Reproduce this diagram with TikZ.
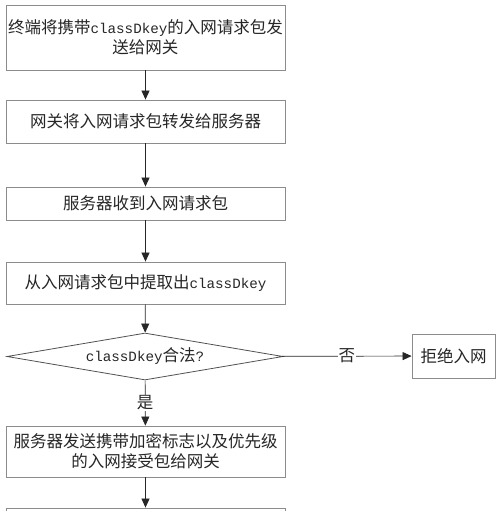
\documentclass[tikz,border=0pt]{standalone}
\usepackage{fontspec}
\usepackage{tikz}
\usetikzlibrary{arrows.meta, shapes.geometric}
\newfontfamily\cjk{Noto Sans CJK SC}
\newfontfamily\latinmono{Liberation Mono}
\newcommand{\lat}[1]{{\latinmono\fontsize{14.2}{20}\selectfont #1}}
\definecolor{boxgray}{HTML}{8C8C8C}
\definecolor{inkgray}{HTML}{262626}

\begin{document}
\begin{tikzpicture}[x=1pt, y=-1pt,
    font=\cjk\fontsize{16.5}{20}\selectfont, text=inkgray,
    stepbox/.style={draw=boxgray, line width=0.8pt, minimum width=279pt, inner sep=2pt, align=center},
    decision/.style={draw=inkgray!80, line width=0.8pt, diamond, aspect=5.9, inner sep=0pt, minimum width=276pt, minimum height=47pt},
    flow/.style={draw=inkgray, line width=0.7pt, -{Triangle[length=9pt, width=8pt]}},
    tag/.style={fill=white, inner sep=1pt}]
        \useasboundingbox (0,0) rectangle (500,511);
        \clip (0,0) rectangle (500,511);
        % Steps
        \node[stepbox, minimum height=65pt] (send) at (145.5,37.5) {终端将携带\lat{classDkey}的入网请求包发\\送给网关};
        \node[stepbox, minimum height=43pt] (forward) at (145.5,121.5) {网关将入网请求包转发给服务器};
        \node[stepbox, minimum height=33pt] (receive) at (145.5,203.5) {服务器收到入网请求包};
        \node[stepbox, minimum height=42pt] (extract) at (145.5,283) {从入网请求包中提取出\lat{classDkey}};
        % Check
        \node[decision] (check) at (145,356.5) {\lat{classDkey}合法\lat{?}};
        \node[stepbox, minimum width=83pt, minimum height=44pt] (reject) at (453.5,356) {拒绝入网};
        \node[stepbox, minimum height=51pt] (accept) at (145.5,451.5) {服务器发送携带加密标志以及优先级\\的入网接受包给网关};
        \node[stepbox, minimum height=44pt] (next) at (145.5,530) {};
        % Arrows
        \draw[flow] (send) -- (forward);
        \draw[flow] (forward) -- (receive);
        \draw[flow] (receive) -- (extract);
        \draw[flow] (extract) -- (check);
        \draw[flow] (check) -- node[tag] {否} (reject);
        \draw[flow] (check) -- node[tag] {是} (accept);
        \draw[flow] (accept) -- (next);
\end{tikzpicture}
\end{document}
